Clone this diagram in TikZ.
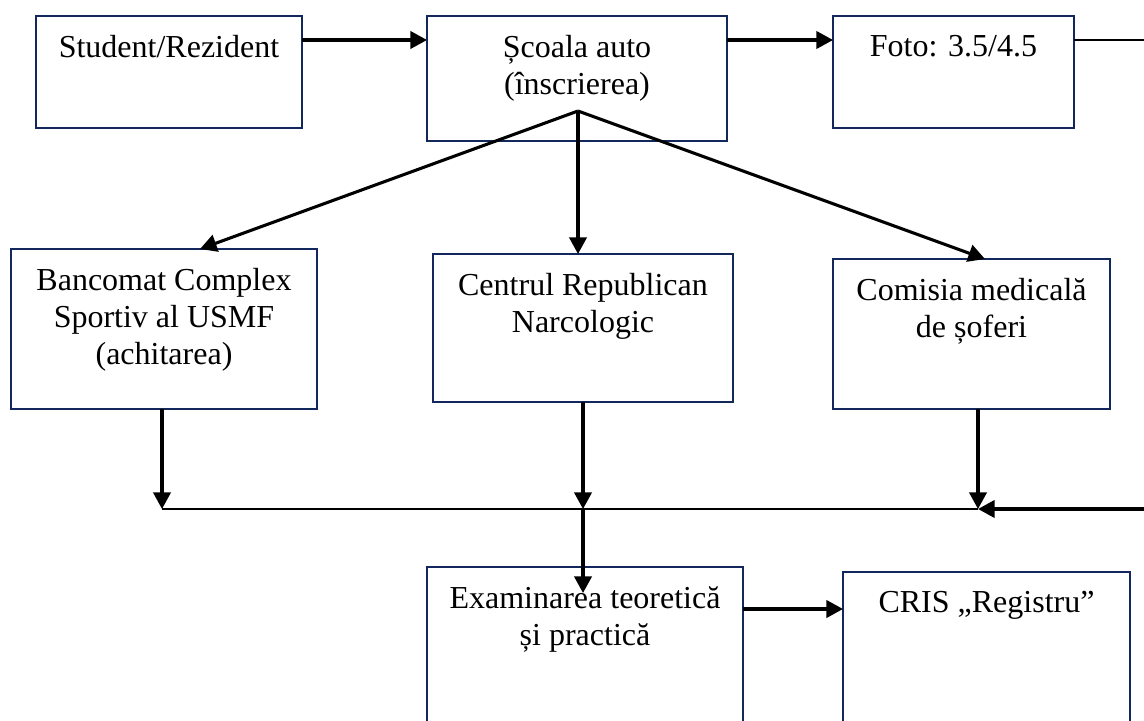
\documentclass[tikz,border=0pt]{standalone}
\usepackage{fontspec}
\setmainfont{Liberation Serif}
\usetikzlibrary{arrows.meta,positioning}

\definecolor{boxblue}{RGB}{18,40,92}

\tikzset{
  box/.style={draw=boxblue, line width=1.9pt, fill=white, inner sep=0pt, outer sep=0pt},
  txt/.style={align=center, inner sep=0pt, font=\fontsize{24}{27.75}\selectfont},
  arr/.style={line width=2.3pt, -{Triangle[length=12.5pt,width=13pt]}},
  thin/.style={line width=1pt}
}

\begin{document}
\begin{tikzpicture}[x=0.75pt,y=0.75pt,yscale=-1]
\clip (0,0) rectangle (1144,720);
\fill[white] (0,0) rectangle (1144,720);

%Shape: Rectangle
\node[box, minimum width=199.5pt, minimum height=84pt] (student) at (169,72) {};
\node[box, minimum width=225pt, minimum height=93.75pt] (scoala) at (577,78.5) {};
\node[box, minimum width=180.75pt, minimum height=84pt] (foto) at (953.5,72) {};
\node[box, minimum width=229.5pt, minimum height=120pt] (banc) at (164,329) {};
\node[box, minimum width=225pt, minimum height=111pt] (centrul) at (583,328) {};
\node[box, minimum width=207.75pt, minimum height=112.5pt] (comisia) at (971.5,334) {};
\node[box, minimum width=237pt, minimum height=165pt] (exam) at (585,677) {};
\node[box, minimum width=215.25pt, minimum height=165pt] (cris) at (986.5,682) {};

% Text Node
\node[txt, below=14.25pt of student.north] (studentTxt) {Student/Rezident};
% Text Node
\node[txt, below=14.25pt of scoala.north] (scoalaTxt) {Școala auto\\(înscrierea)};
% Text Node
\node[txt, below=14.25pt of foto.north] (fotoTxt) {Foto: 3.5/4.5};
% Text Node
\node[txt, below=14.25pt of banc.north] (bancTxt) {Bancomat Complex\\Sportiv al USMF\\(achitarea)};
% Text Node
\node[txt, below=14.25pt of centrul.north] (centrulTxt) {Centrul Republican\\Narcologic};
% Text Node
\node[txt, below=14.25pt of comisia.north] (comisiaTxt) {Comisia medicală\\de șoferi};
% Text Node
\node[txt, below=14.25pt of exam.north] (examTxt) {Examinarea teoretică\\și practică};
% Text Node
\node[txt, below=14.25pt of cris.north] (crisTxt) {CRIS „Registru”};

% junction points
\coordinate (apex) at (578,111);
\coordinate (fotoOut) at (1150,40);
\coordinate (joinL) at (162,509);
\coordinate (joinM) at (583,509);
\coordinate (joinR) at (978,509);
\coordinate (edgeR) at (1150,509);

%Straight Lines [top row]
\draw[arr] (student.east |- fotoOut) -- (scoala.west |- fotoOut);
\draw[arr] (scoala.east |- fotoOut) -- (foto.west |- fotoOut);
\draw[thin] (foto.east |- fotoOut) -- (fotoOut);

%Straight Lines [fan]
\draw[arr] (apex) -- (200,0 |- banc.north);
\draw[arr] (apex) -- (apex |- centrul.north);
\draw[arr] (apex) -- (985,0 |- comisia.north);

%Straight Lines [join]
\draw[arr] (banc.south -| joinL) -- (joinL);
\draw[arr] (centrul.south -| joinM) -- (joinM);
\draw[arr] (comisia.south -| joinR) -- (joinR);
\draw[thin] (joinL) -- (joinR);
\draw[arr] (edgeR) -- (joinR);
\draw[arr] (joinM) -- ++(0,84);

%Straight Lines [bottom row]
\draw[arr] (exam.east |- 0,609) -- (cris.west |- 0,609);
\end{tikzpicture}
\end{document}
